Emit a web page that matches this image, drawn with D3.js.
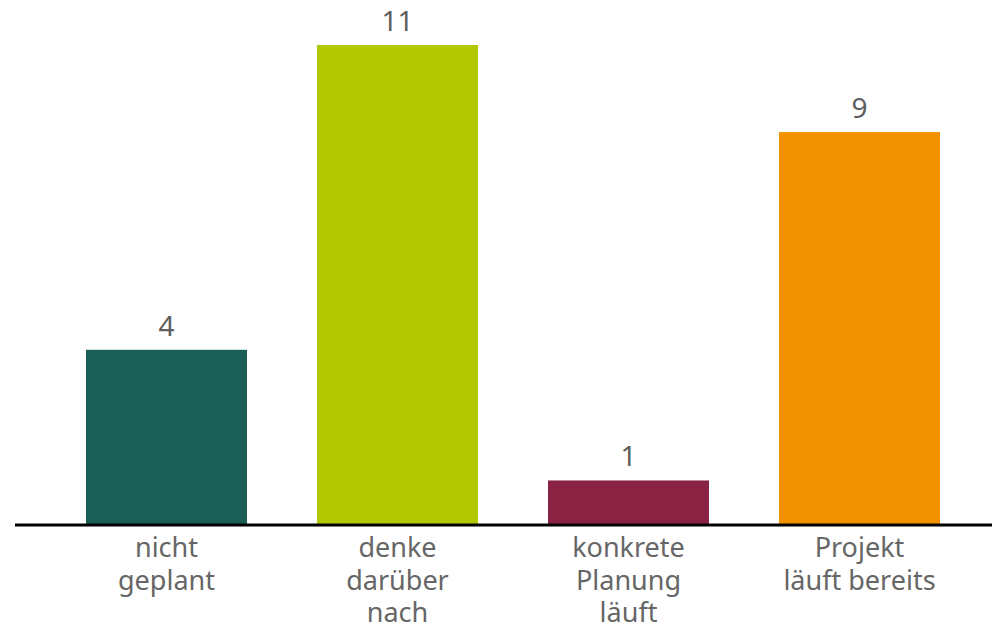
<!DOCTYPE html>
<html><head><meta charset="utf-8">
<script src="https://cdn.jsdelivr.net/npm/d3@7"></script>
<style>body{margin:0;background:#fff}svg{display:block}</style>
</head><body>
<svg id="c" width="992" height="624"></svg>
<script>
const categories = [["nicht","geplant"],["denke","darüber","nach"],["konkrete","Planung","läuft"],["Projekt","läuft bereits"]];
const values = [4, 11, 1, 9];
const colors = ["#1b5e56", "#b4c800", "#8a2244", "#f29200"];

const svg = d3.select("#c");
const baseY = 524;
const x = d3.scaleBand().domain(d3.range(values.length)).range([51, 975]).paddingInner(0.303).paddingOuter(0.1515);
const y = d3.scaleLinear().domain([0, 11]).range([baseY, 45]);
const font = "'Noto Sans', 'Source Sans Pro', sans-serif";

svg.selectAll("rect.bar").data(values).join("rect")
  .attr("class","bar")
  .attr("x",(d,i)=>x(i)).attr("width",x.bandwidth())
  .attr("y",d=>y(d)).attr("height",d=>baseY-y(d))
  .attr("fill",(d,i)=>colors[i]);

svg.selectAll("text.val").data(values).join("text")
  .attr("class","val")
  .attr("x",(d,i)=>x(i)+x.bandwidth()/2)
  .attr("y",d=>y(d)-14)
  .attr("text-anchor","middle")
  .attr("font-family",font).attr("font-size",28)
  .attr("fill","#5e5e5e")
  .text(d=>d);

svg.append("line").attr("x1",15).attr("x2",992).attr("y1",baseY+1).attr("y2",baseY+1)
  .attr("stroke","#000").attr("stroke-width",3);

const lab = svg.selectAll("text.cat").data(categories).join("text")
  .attr("class","cat")
  .attr("text-anchor","middle")
  .attr("font-family",font).attr("font-size",27)
  .attr("fill","#666");
lab.each(function(lines,i){
  d3.select(this).selectAll("tspan").data(lines).join("tspan")
    .attr("x",x(i)+x.bandwidth()/2)
    .attr("y",(d,j)=>557+j*32.5)
    .text(d=>d);
});
</script>
</body></html>
